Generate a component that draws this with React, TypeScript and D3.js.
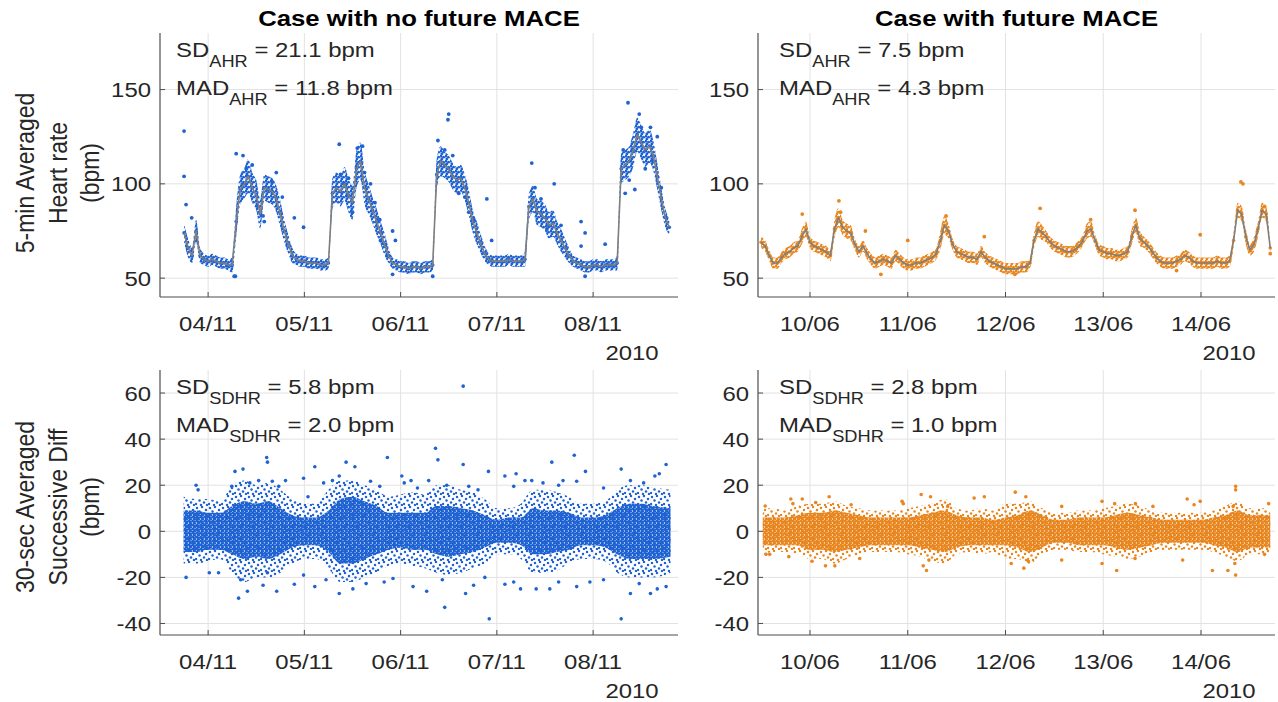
import React from "react";
import * as d3 from "d3";

// ---------- data ----------
const titles = ["Case with no future MACE", "Case with future MACE"];
const hrAxisLabel = ["5-min Averaged", "Heart rate", "(bpm)"];
const sdAxisLabel = ["30-sec Averaged", "Successive Diff", "(bpm)"];
const yearLabel = "2010";

const hrTicks = [50, 100, 150];
const sdTicks = [-40, -20, 0, 20, 40, 60];

const noMaceDays = ["2010-11-04", "2010-11-05", "2010-11-06", "2010-11-07", "2010-11-08"];
const maceDays = ["2010-06-10", "2010-06-11", "2010-06-12", "2010-06-13", "2010-06-14"];

// SD / MAD values printed in each panel
const noMaceAhrStats = [21.1, 11.8];
const maceAhrStats = [7.5, 4.3];
const noMaceSdhrStats = [5.8, 2.0];
const maceSdhrStats = [2.8, 1.0];

// 5-min averaged HR, hourly trend (grey line), first value at hour -6 of 04/11
const noMaceHr = [
  74, 66, 62, 75, 62, 60,
  59, 60, 59, 58, 58, 57, 57,
  80, 97, 100, 104, 98, 94, 84, 98, 97, 96, 92, 84, 75, 68,
  62, 60, 59, 59, 58, 58, 58, 57, 57, 58,
  95, 98, 96, 100, 94, 90, 108, 112, 98, 92, 86, 80, 74, 68,
  62, 58, 57, 56, 56, 55, 56, 56, 55, 56, 56, 57,
  105, 112, 110, 108, 104, 102, 103, 98, 90, 80, 74, 68, 63,
  60, 59, 59, 59, 59, 60, 59, 59, 59, 60,
  88, 92, 85, 84, 82, 78, 79, 74, 70, 66, 62,
  59, 58, 57, 56, 56, 57, 57, 56, 57, 57, 57, 58,
  108, 110, 112, 118, 126, 122, 118, 120, 115, 104, 92, 82, 77,
];
// half width of the blue dot cloud around the trend, per hour
const noMaceHrSpread = [
  5, 5, 4, 6, 4, 3,
  3, 3, 3, 3, 3, 3, 4,
  8, 8, 8, 9, 8, 8, 8, 7, 7, 7, 7, 7, 6, 5,
  4, 3, 3, 3, 3, 3, 3, 3, 3, 3,
  8, 8, 8, 9, 9, 9, 10, 10, 9, 8, 7, 7, 6, 6,
  4, 3, 3, 3, 3, 3, 3, 3, 3, 3, 3, 3,
  8, 8, 7, 7, 7, 7, 7, 7, 7, 6, 6, 5, 4,
  3, 3, 3, 3, 3, 3, 3, 3, 3, 4,
  7, 7, 7, 7, 7, 7, 7, 6, 6, 5, 4,
  3, 3, 3, 3, 3, 3, 3, 3, 3, 3, 3, 4,
  8, 8, 8, 9, 9, 9, 9, 9, 8, 7, 6, 5, 4,
];
// [hour, bpm] stray points
const noMaceHrOut = [
  [-6, 128], [-6, 104], [-5.5, 89], [-4.1, 82], [7, 116], [8.7, 115], [6.8, 51], [17, 106],
  [21.5, 82], [23.8, 77], [13.7, 83], [32.7, 121], [37.2, 119], [38.5, 120], [41.6, 90],
  [42.8, 81], [46, 75], [46.7, 70], [57.3, 123], [60, 137], [59.8, 134], [64, 93], [66.2, 81],
  [69.5, 92], [70.7, 70], [80.7, 111], [86.3, 100], [93, 80], [94, 74], [99, 68], [104.7, 143],
  [107.5, 137], [110.3, 130], [104, 95], [106.4, 97], [112, 125], [93, 67], [108, 130],
  [6.5, 51], [56, 51], [94, 51], [46, 52],
  [9.5, 108], [11, 110], [12.5, 88], [14, 80], [16, 101], [18.5, 93], [33, 105], [35, 103],
  [36, 85], [39, 106], [40.5, 100], [43, 70], [59, 118], [61, 115], [62.5, 95], [65, 85],
  [81.5, 98], [83, 92], [84.5, 76], [88, 78], [103.5, 118], [105, 102], [109, 108], [111, 112],
  [113, 98],
];

// first value at hour -12 of 10/06
const maceHr = [
  69, 67, 62, 58, 58, 61, 63, 64, 66, 67, 72, 76,
  69, 67, 66, 65, 64, 62, 76, 82, 77, 75, 74, 68,
  64, 67, 63, 60, 58, 59, 60, 59, 58, 62, 60, 58,
  57, 57, 58, 58, 59, 60, 61, 63, 70, 78, 75, 68,
  64, 63, 62, 61, 61, 60, 64, 61, 59, 58, 57, 56,
  55, 55, 55, 55, 56, 56, 58, 70, 76, 74, 72, 69,
  67, 66, 65, 64, 64, 65, 67, 70, 75, 76, 70, 65,
  64, 63, 63, 62, 62, 63, 64, 72, 78, 71, 69, 67,
  64, 61, 59, 58, 58, 58, 59, 60, 62, 61, 59, 58,
  58, 58, 58, 58, 59, 58, 58, 59, 70, 86, 84, 72,
  65, 68, 76, 86, 84, 66,
];
const maceHrSpread = [
  3, 3, 3, 3, 3, 3, 3, 3, 3, 3, 4, 4,
  3, 3, 3, 3, 3, 3, 5, 5, 4, 4, 4, 3,
  3, 3, 3, 3, 3, 3, 3, 3, 3, 3, 3, 3,
  3, 3, 3, 3, 3, 3, 3, 3, 5, 5, 4, 3,
  3, 3, 3, 3, 3, 3, 3, 3, 3, 3, 3, 3,
  3, 3, 3, 3, 3, 3, 3, 4, 4, 4, 3, 3,
  3, 3, 3, 3, 3, 3, 3, 3, 4, 4, 3, 3,
  3, 3, 3, 3, 3, 3, 3, 4, 4, 4, 3, 3,
  3, 3, 3, 3, 3, 3, 3, 3, 3, 3, 3, 3,
  3, 3, 3, 3, 3, 3, 3, 3, 4, 4, 4, 4,
  3, 4, 4, 4, 4, 3,
];
const maceHrOut = [
  [105.8, 101], [106.3, 100], [7.1, 91], [7.5, 85], [-1.9, 84], [56.5, 87], [79.8, 86],
  [68.9, 81], [33.4, 83], [24, 70], [42.8, 72], [95.8, 73], [17.4, 52], [50.3, 52], [90, 54],
  [13.6, 75], [111.6, 88], [113, 63],
];

// 30-sec successive differences: dense core and sparse cloud limits every 3 h
const noMaceCoreHi = [9, 9, 8, 8, 11, 13, 12, 13, 10, 7, 6, 6, 9, 14, 15, 13, 11, 8, 8, 8, 8, 11, 11, 10, 9, 7, 5, 6, 6, 10, 9, 9, 8, 6, 6, 7, 10, 12, 12, 11, 10];
const noMaceCoreLo = [-9, -9, -8, -8, -10, -12, -11, -12, -10, -7, -6, -6, -9, -14, -14, -12, -10, -8, -7, -8, -8, -10, -11, -10, -9, -7, -5, -5, -6, -10, -10, -9, -8, -6, -6, -7, -10, -12, -12, -12, -11];
const noMaceCloudHi = [15, 14, 14, 13, 20, 22, 20, 21, 18, 14, 12, 12, 18, 22, 22, 20, 18, 15, 16, 17, 16, 20, 20, 18, 17, 14, 10, 10, 12, 18, 18, 17, 15, 12, 12, 13, 18, 20, 20, 19, 18];
const noMaceCloudLo = [-14, -14, -13, -12, -18, -22, -20, -20, -18, -14, -12, -12, -16, -22, -22, -20, -18, -15, -14, -15, -16, -18, -19, -18, -16, -14, -10, -10, -12, -18, -18, -17, -14, -12, -12, -13, -18, -20, -20, -20, -18];
const noMaceSdOut = [
  [63.6, 63], [56.7, 36], [57.3, 31], [44.7, 32], [14.6, 32], [14.8, 30], [91.3, 33], [114.2, 29],
  [34.4, 30], [36.6, 28], [26.6, 28], [8.7, 27], [6.7, 26], [85.7, 30], [69.9, 26], [63.6, 29],
  [103, 27], [-3, 20], [112.5, 25], [94.1, 26], [48.3, 24], [23.8, 23], [80.7, 22], [70.1, -38],
  [103, -38], [59, -33], [7.6, -29], [9.8, -26], [17.1, -26], [32.7, -27], [36.1, -25], [54.5, -26],
  [64.2, -27], [69, -20], [85.2, -25], [105.3, -27], [112, -25], [114.2, -24], [-5.5, -20],
  [77.9, -25], [81.8, -25], [26.6, -24], [43.9, -22], [74, -23], [95.2, -22], [110.3, -27],
  [21.5, -23], [14.8, -18], [2.6, -18], [74, 24], [76.8, 25], [88.5, 22], [50.6, 22], [19.3, 22],
  [-2.5, 18], [5.9, 19.5], [10.4, 21], [12.6, 22], [16, 21.7], [17.6, 19.5], [24.9, 15], [28.8, 21],
  [31, 22], [32.7, 24], [40.5, 21.7], [42.8, 19.5], [48.9, 21], [52.2, 18.8], [55, 22], [59.5, 20],
  [65, 19.5], [67.3, 18], [76.2, 19.5], [79, 22], [83.5, 21], [87.4, 20], [91.9, 21.7], [98.6, 18.8],
  [105.3, 22], [108.6, 21], [111.4, 24],
  [0.3, -18], [8.1, -21], [13.7, -23.4], [23.8, -19], [29.4, -21], [39.4, -22.7], [46.1, -20.5],
  [51.1, -24], [58.4, -21], [66.2, -23.4], [76.2, -22], [87.4, -22], [91.9, -24], [98.6, -21],
  [107.5, -22.7],
];

const maceCoreHi = [6, 6, 6, 7, 8, 8, 9, 8, 7, 6, 6, 6, 6, 7, 8, 9, 7, 6, 6, 5, 6, 7, 9, 7, 5, 5, 6, 6, 6, 7, 8, 7, 6, 5, 5, 5, 5, 6, 7, 9, 7, 7];
const maceCoreLo = [-6, -6, -6, -6, -8, -8, -9, -8, -7, -6, -6, -6, -6, -7, -8, -9, -7, -6, -6, -6, -6, -7, -9, -7, -5, -5, -6, -6, -6, -7, -8, -7, -6, -5, -5, -5, -5, -6, -7, -9, -7, -7];
const maceCloudHi = [10, 10, 9, 11, 12, 12, 13, 11, 10, 9, 9, 9, 10, 11, 12, 14, 10, 9, 10, 9, 12, 12, 13, 10, 8, 8, 9, 9, 10, 11, 12, 11, 9, 8, 8, 8, 8, 9, 11, 13, 10, 10];
const maceCloudLo = [-10, -9, -9, -10, -12, -12, -14, -12, -10, -9, -9, -9, -10, -11, -13, -14, -10, -9, -10, -9, -12, -12, -14, -10, -8, -8, -9, -9, -10, -11, -12, -11, -9, -8, -8, -8, -8, -9, -11, -13, -10, -10];
const maceSdOut = [
  [104.5, 19.5], [104.5, 18], [50.4, 17], [53, 15], [27.3, 16], [29.6, 15], [4.7, 15], [42.8, 15],
  [-4.7, 14], [-1.9, 14], [92.6, 14], [95.8, 13], [71.7, 13], [22.6, 13], [-11, 11], [74.8, 12],
  [104.5, -19], [75.3, -17], [98.8, -17], [71.7, -14], [28.6, -17], [52.5, -16], [3.8, -15],
  [6.1, -15], [102.6, -17], [111.6, -10], [-10.8, -10], [-9.9, -10], [27.8, -15], [49.4, -14],
  [-4.2, 12], [1.4, 12.5], [10.1, 11.5], [22.9, 12], [33.8, 10.8], [40.3, 14.4], [61.8, 10.8],
  [79.9, 12], [84.2, 10.8], [94.3, 11.5], [103.9, 10.8], [112.6, 12],
  [-5.2, -11], [0.5, -13], [12.2, -11.8], [29.2, -12.5], [53.6, -13], [61.8, -12.5], [79.8, -11.8],
  [91.5, -12.5], [104.3, -14],
];

// ---------- layout ----------
const FONT = "'Liberation Sans', Arial, Helvetica, sans-serif";
const TEXT = "#262626";
const GRID = "#e2e2e2";
const AXIS = "#4d4d4d";
const TREND = "#7f7f7f";
const HOUR = 3600 * 1000;
const SX = 1.14; // the figure's lettering is a little wider than Arial
const parseDay = d3.utcParse("%Y-%m-%d");
const fmtDay = d3.utcFormat("%d/%m");

const cols = [
  {
    key: "no", x0: 160, x1: 678, statX: 176, color: "#1f62d2",
    t0: Date.UTC(2010, 10, 3, 12, 0), t1: Date.UTC(2010, 10, 8, 21, 10), day0: Date.UTC(2010, 10, 4),
    days: noMaceDays, hr: noMaceHr, spread: noMaceHrSpread, hrStart: -6, hrOut: noMaceHrOut,
    coreHi: noMaceCoreHi, coreLo: noMaceCoreLo, cloudHi: noMaceCloudHi, cloudLo: noMaceCloudLo,
    sdStart: -6.1, sdEnd: 115.3, sdOut: noMaceSdOut, ahr: noMaceAhrStats, sdhr: noMaceSdhrStats,
  },
  {
    key: "yes", x0: 758, x1: 1275, statX: 779, color: "#e8861f",
    t0: Date.UTC(2010, 5, 9, 11, 14), t1: Date.UTC(2010, 5, 14, 18, 10), day0: Date.UTC(2010, 5, 10),
    days: maceDays, hr: maceHr, spread: maceHrSpread, hrStart: -12, hrOut: maceHrOut,
    coreHi: maceCoreHi, coreLo: maceCoreLo, cloudHi: maceCloudHi, cloudLo: maceCloudLo,
    sdStart: -11.6, sdEnd: 113, sdOut: maceSdOut, ahr: maceAhrStats, sdhr: maceSdhrStats,
  },
];
const rows = [
  { key: "hr", y0: 33, y1: 297, domain: [40, 180], ticks: hrTicks, sub: "AHR", label: hrAxisLabel, labelY: 173 },
  { key: "sd", y0: 370, y1: 635, domain: [-45, 70], ticks: sdTicks, sub: "SDHR", label: sdAxisLabel, labelY: 507 },
];

// text drawn at (x, y) and widened by SX
function T({ x, y, anchor = "start", size = 21, weight = "normal", fill = TEXT, sx = SX, children }) {
  return (
    <text
      transform={`translate(${x},${y}) scale(${sx},1)`}
      textAnchor={anchor}
      fontSize={size}
      fontWeight={weight}
      fill={fill}
    >
      {children}
    </text>
  );
}

function StatLine({ x, y, name, sub, value }) {
  return (
    <T x={x} y={y}>
      {name}
      <tspan fontSize={16} dy={10}>{sub}</tspan>
      <tspan dy={-10}>{` = ${value.toFixed(1)} bpm`}</tspan>
    </T>
  );
}

function Panel({ col, row }) {
  const x = d3.scaleUtc().domain([col.t0, col.t1]).range([col.x0, col.x1]);
  const y = d3.scaleLinear().domain(row.domain).range([row.y1, row.y0]);
  const at = (h) => x(new Date(col.day0 + h * HOUR));
  const tickDates = col.days.map((d) => parseDay(d));
  const clipId = `clip-${col.key}-${row.key}`;

  let marks;
  if (row.key === "hr") {
    const hours = col.hr.map((_, i) => col.hrStart + i);
    const band = d3.area()
      .x((_, i) => at(hours[i]))
      .y0((v, i) => y(v - col.spread[i]))
      .y1((v, i) => y(v + col.spread[i]))
      .curve(d3.curveMonotoneX);
    const line = d3.line().x((_, i) => at(hours[i])).y((v) => y(v));
    marks = (
      <g>
        <path d={band(col.hr)} fill={`url(#dots-${col.key})`} />
        {col.hr.map((v, i) => (
          <circle key={i} cx={at(hours[i])} cy={y(v)} r={1.8} fill={col.color} />
        ))}
        {col.hrOut.map(([h, v], i) => (
          <circle key={"o" + i} cx={at(h)} cy={y(v)} r={1.9} fill={col.color} />
        ))}
        <path d={line(col.hr)} fill="none" stroke={TREND} strokeWidth={1.6} strokeLinejoin="round" />
      </g>
    );
  } else {
    const n = col.coreHi.length;
    // samples every 3 h; first and last pinned to where the recording starts / stops
    const hours = col.coreHi.map((_, i) =>
      i === 0 ? col.sdStart : i === n - 1 ? col.sdEnd : Math.round(col.sdStart) + 3 * i
    );
    const bandOf = (hi, lo) =>
      d3.area().x((_, i) => at(hours[i])).y0((_, i) => y(lo[i])).y1((v) => y(v)).curve(d3.curveMonotoneX)(hi);
    marks = (
      <g>
        <path d={bandOf(col.cloudHi, col.cloudLo)} fill={`url(#cloud-${col.key})`} />
        <path d={bandOf(col.coreHi, col.coreLo)} fill={`url(#core-${col.key})`} />
        {col.sdOut.map(([h, v], i) => (
          <circle key={i} cx={at(h)} cy={y(v)} r={1.8} fill={col.color} />
        ))}
      </g>
    );
  }

  const stats = row.key === "hr" ? col.ahr : col.sdhr;
  return (
    <g>
      <defs>
        <clipPath id={clipId}>
          <rect x={col.x0} y={row.y0} width={col.x1 - col.x0} height={row.y1 - row.y0} />
        </clipPath>
      </defs>
      {tickDates.map((d, i) => (
        <line key={"gx" + i} x1={x(d)} x2={x(d)} y1={row.y0} y2={row.y1} stroke={GRID} />
      ))}
      {row.ticks.map((t) => (
        <line key={"gy" + t} x1={col.x0} x2={col.x1} y1={y(t)} y2={y(t)} stroke={GRID} />
      ))}
      <g clipPath={`url(#${clipId})`}>{marks}</g>
      <line x1={col.x0} x2={col.x0} y1={row.y0} y2={row.y1} stroke={AXIS} strokeWidth={1.2} />
      <line x1={col.x0} x2={col.x1} y1={row.y1} y2={row.y1} stroke={AXIS} strokeWidth={1.2} />
      {tickDates.map((d, i) => (
        <g key={"tx" + i}>
          <line x1={x(d)} x2={x(d)} y1={row.y1} y2={row.y1 - 5} stroke={AXIS} />
          <T x={x(d)} y={row.y1 + 34} anchor="middle">{fmtDay(d)}</T>
        </g>
      ))}
      {row.ticks.map((t) => (
        <g key={"ty" + t}>
          <line x1={col.x0} x2={col.x0 + 5} y1={y(t)} y2={y(t)} stroke={AXIS} />
          <T x={col.x0 - 9} y={y(t) + 7.5} anchor="end">{t}</T>
        </g>
      ))}
      <T x={col.x1 - 46} y={row.y1 + 63} anchor="middle">{yearLabel}</T>
      <StatLine x={col.statX} y={row.y0 + 24} name="SD" sub={row.sub} value={stats[0]} />
      <StatLine x={col.statX} y={row.y0 + 62} name="MAD" sub={row.sub} value={stats[1]} />
    </g>
  );
}

export default function App() {
  return (
    <svg
      width={1278}
      height={702}
      style={{ position: "fixed", left: 0, top: 0, background: "#fff" }}
      fontFamily={FONT}
    >
      <defs>
        {cols.map((c) => (
          <React.Fragment key={c.key}>
            <pattern id={`dots-${c.key}`} width={5} height={5} patternUnits="userSpaceOnUse">
              <circle cx={1} cy={1.2} r={1.4} fill={c.color} />
              <circle cx={3.6} cy={2.2} r={1.4} fill={c.color} />
              <circle cx={1.8} cy={4} r={1.4} fill={c.color} />
            </pattern>
            <pattern id={`core-${c.key}`} width={4} height={4} patternUnits="userSpaceOnUse">
              <circle cx={1} cy={1} r={1.35} fill={c.color} />
              <circle cx={3} cy={1.6} r={1.35} fill={c.color} />
              <circle cx={1.9} cy={3.2} r={1.35} fill={c.color} />
              <circle cx={3.9} cy={3.8} r={1.2} fill={c.color} />
            </pattern>
            <pattern id={`cloud-${c.key}`} width={13} height={11} patternUnits="userSpaceOnUse">
              <circle cx={2} cy={2} r={1.25} fill={c.color} />
              <circle cx={7} cy={1} r={1.25} fill={c.color} />
              <circle cx={11} cy={4} r={1.25} fill={c.color} />
              <circle cx={4.5} cy={5.5} r={1.25} fill={c.color} />
              <circle cx={9} cy={7.5} r={1.25} fill={c.color} />
              <circle cx={1} cy={9} r={1.25} fill={c.color} />
              <circle cx={6} cy={10} r={1.25} fill={c.color} />
              <circle cx={12} cy={10} r={1.25} fill={c.color} />
            </pattern>
          </React.Fragment>
        ))}
      </defs>
      <rect width={1278} height={702} fill="#fff" />
      {cols.map((c, ci) => (
        <T key={"t" + ci} x={(c.x0 + c.x1) / 2} y={26} anchor="middle" size={22} weight="bold" fill="#000" sx={1.17}>
          {titles[ci]}
        </T>
      ))}
      {rows.map((r) =>
        cols.map((c) => <Panel key={c.key + r.key} col={c} row={r} />)
      )}
      {rows.map((r) => (
        <g key={"lab" + r.key}>
          {r.label.map((s, i) => (
            <text
              key={i}
              transform={`translate(${25 + i * 32.5},${r.labelY}) rotate(-90) scale(1,${SX})`}
              textAnchor="middle"
              dominantBaseline="central"
              fontSize={23}
              fill={TEXT}
            >
              {s}
            </text>
          ))}
        </g>
      ))}
    </svg>
  );
}
